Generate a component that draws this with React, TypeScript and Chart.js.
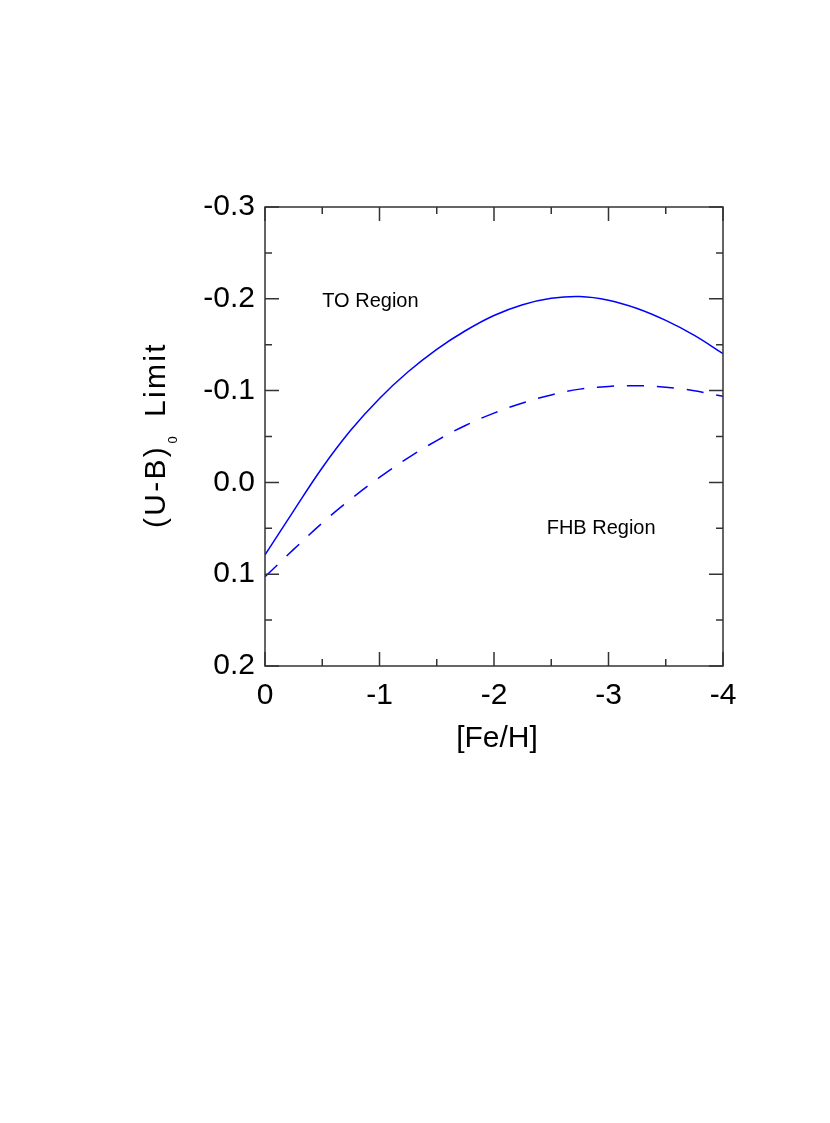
import React, { useEffect, useRef } from "react";
import { Chart, registerables } from "chart.js";

Chart.register(...registerables);

// ---- data ----
const feH = [0, -0.25, -0.5, -0.75, -1, -1.25, -1.5, -1.75, -2, -2.25, -2.5, -2.75, -3, -3.25, -3.5, -3.75, -4];
const toLimit = [0.079, 0.031, -0.016, -0.057, -0.0915, -0.1205, -0.145, -0.1652, -0.1818, -0.1935, -0.2005, -0.2025, -0.1985, -0.1895, -0.1765, -0.1602, -0.1403];
const fhbLimit = [0.1028, 0.073, 0.0442, 0.0182, -0.0055, -0.0267, -0.0456, -0.062, -0.0755, -0.0865, -0.0953, -0.1016, -0.1046, -0.1053, -0.1037, -0.0998, -0.0937];

const xTicks = [0, -1, -2, -3, -4];
const xTickLabels = ["0", "-1", "-2", "-3", "-4"];
const xMinorTicks = [-0.5, -1.5, -2.5, -3.5];
const yTicks = [-0.3, -0.2, -0.1, 0, 0.1, 0.2];
const yTickLabels = ["-0.3", "-0.2", "-0.1", "0.0", "0.1", "0.2"];
const yMinorTicks = [-0.25, -0.15, -0.05, 0.05, 0.15];

const xTitle = "[Fe/H]";
const yTitleMain = "(U-B)";
const yTitleSub = "0";
const yTitleTail = "Limit";

const regionLabels = ["TO Region", "FHB Region"];
const regionX = [-0.5, -2.46];
const regionY = [-0.191, 0.056];

const FONT = "'Liberation Sans', Arial, Helvetica, sans-serif";
const LINE_COLOR = "#0000ff";
const AXIS_COLOR = "#333333";

const labelFor = (vals: number[], labels: string[], v: number) => {
  const i = vals.findIndex((t) => Math.abs(t - v) < 1e-9);
  return i >= 0 ? labels[i] : "";
};

const framePlugin = {
  id: "framePlugin",
  afterDraw(chart: any) {
    const { ctx, chartArea: a, scales } = chart;
    const xs = scales.x;
    const ys = scales.y;
    ctx.save();
    ctx.strokeStyle = AXIS_COLOR;
    ctx.lineWidth = 1.5;
    ctx.strokeRect(a.left, a.top, a.right - a.left, a.bottom - a.top);

    const drawX = (vals: number[], len: number) => {
      vals.forEach((v) => {
        const px = xs.getPixelForValue(v);
        ctx.beginPath();
        ctx.moveTo(px, a.bottom);
        ctx.lineTo(px, a.bottom - len);
        ctx.moveTo(px, a.top);
        ctx.lineTo(px, a.top + len);
        ctx.stroke();
      });
    };
    const drawY = (vals: number[], len: number) => {
      vals.forEach((v) => {
        const py = ys.getPixelForValue(v);
        ctx.beginPath();
        ctx.moveTo(a.left, py);
        ctx.lineTo(a.left + len, py);
        ctx.moveTo(a.right, py);
        ctx.lineTo(a.right - len, py);
        ctx.stroke();
      });
    };
    drawX(xTicks, 14);
    drawX(xMinorTicks, 7);
    drawY(yTicks, 14);
    drawY(yMinorTicks, 7);

    // region annotations
    ctx.fillStyle = "#000";
    ctx.textAlign = "left";
    ctx.textBaseline = "alphabetic";
    ctx.font = `20px ${FONT}`;
    regionLabels.forEach((t, i) => {
      ctx.fillText(t, xs.getPixelForValue(regionX[i]), ys.getPixelForValue(regionY[i]));
    });

    // x title
    ctx.font = `30px ${FONT}`;
    ctx.textAlign = "center";
    ctx.fillText(xTitle, (a.left + a.right) / 2 + 3, a.bottom + 81);

    // y title with subscript
    const cy = (a.top + a.bottom) / 2 + 1;
    ctx.translate(a.left - 100, cy);
    ctx.rotate(-Math.PI / 2);
    ctx.textAlign = "left";
    try {
      (ctx as any).letterSpacing = "2.3px";
    } catch (e) {}
    ctx.font = `30px ${FONT}`;
    ctx.fillText(yTitleMain, -90.5, 0);
    ctx.fillText(yTitleTail, 20.5, 0);
    try {
      (ctx as any).letterSpacing = "0px";
    } catch (e) {}
    ctx.font = `13px ${FONT}`;
    ctx.fillText(yTitleSub, -6, 12);
    ctx.restore();
  },
};

export default function App() {
  const ref = useRef<HTMLCanvasElement | null>(null);

  useEffect(() => {
    if (!ref.current) return;
    const chart = new Chart(ref.current, {
      type: "line",
      data: {
        datasets: [
          {
            label: "TO limit",
            data: feH.map((x, i) => ({ x, y: toLimit[i] })),
            borderColor: LINE_COLOR,
            borderWidth: 1.5,
            pointRadius: 0,
            tension: 0.4,
            fill: false,
          },
          {
            label: "FHB limit",
            data: feH.map((x, i) => ({ x, y: fhbLimit[i] })),
            borderColor: LINE_COLOR,
            borderWidth: 1.5,
            borderDash: [17, 13],
            pointRadius: 0,
            tension: 0.4,
            fill: false,
          },
        ],
      },
      options: {
        responsive: false,
        devicePixelRatio: 1,
        animation: false,
        layout: { padding: { top: 207, left: 0, right: 107, bottom: 357 } },
        plugins: {
          legend: { display: false },
          tooltip: { enabled: false },
          title: { display: false },
        },
        scales: {
          x: {
            type: "linear",
            min: -4,
            max: 0,
            reverse: true,
            grid: { display: false, drawTicks: false, tickLength: 0 },
            border: { display: false },
            afterBuildTicks: (scale: any) => {
              scale.ticks = xTicks.map((v) => ({ value: v }));
            },
            afterFit: (scale: any) => {
              scale.height = 100;
            },
            ticks: {
              autoSkip: false,
              maxRotation: 0,
              padding: 12,
              color: "#000",
              font: { family: FONT, size: 30 },
              callback: (v: any) => labelFor(xTicks, xTickLabels, Number(v)),
            },
          },
          y: {
            type: "linear",
            min: -0.3,
            max: 0.2,
            reverse: true,
            grid: { display: false, drawTicks: false, tickLength: 0 },
            border: { display: false },
            afterBuildTicks: (scale: any) => {
              scale.ticks = yTicks.map((v) => ({ value: v }));
            },
            afterFit: (scale: any) => {
              scale.width = 265;
            },
            ticks: {
              autoSkip: false,
              padding: 10,
              color: "#000",
              font: { family: FONT, size: 30 },
              callback: (v: any) => labelFor(yTicks, yTickLabels, Number(v)),
            },
          },
        },
      },
      plugins: [framePlugin],
    });
    return () => chart.destroy();
  }, []);

  return (
    <canvas
      ref={ref}
      width={830}
      height={1123}
      style={{ position: "absolute", left: 0, top: 0, width: "830px", height: "1123px" }}
    />
  );
}
